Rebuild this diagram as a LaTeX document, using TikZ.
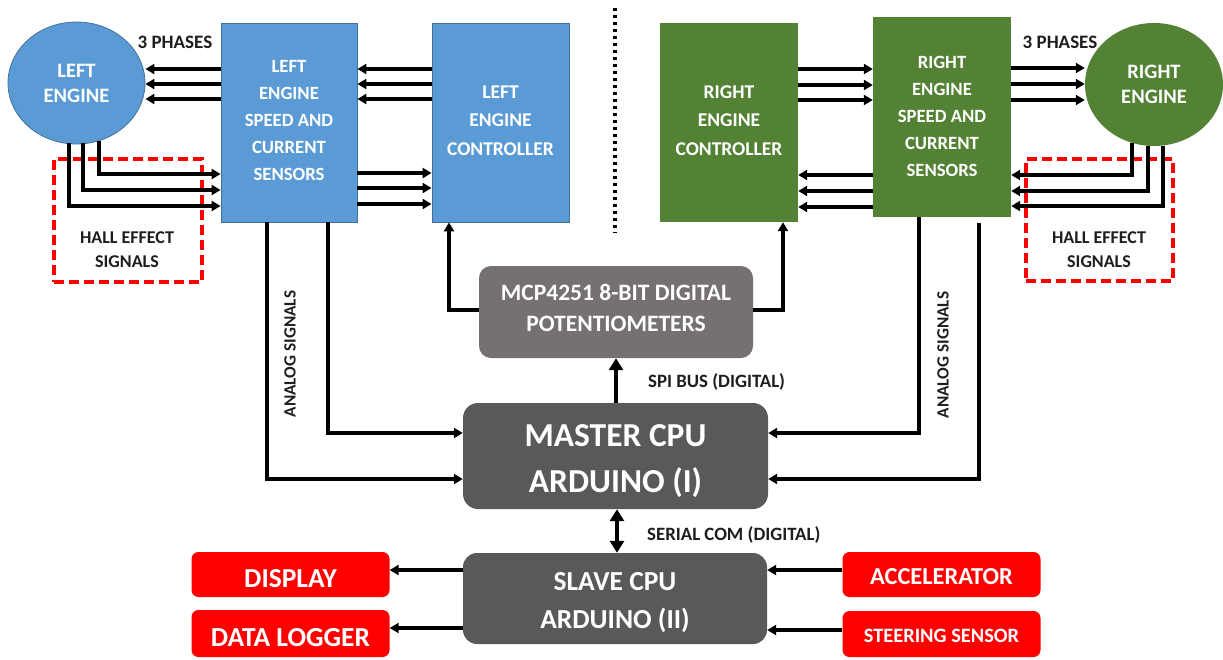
\documentclass[tikz,border=0pt]{standalone}
\usepackage{fontspec}
\setmainfont{Carlito}
\usetikzlibrary{arrows.meta,shapes.geometric,calc}
\definecolor{bblue}{HTML}{5B9BD5}
\definecolor{bblueedge}{HTML}{41719C}
\definecolor{ggreen}{HTML}{548235}
\definecolor{mcpgray}{HTML}{767171}
\definecolor{cpugray}{HTML}{595959}
\definecolor{rred}{HTML}{FF0000}
\definecolor{txt}{HTML}{1E1E1E}
\newcommand\fsz[2]{\fontsize{#1}{#2}\selectfont\bfseries}
\begin{document}
\begin{tikzpicture}[x=1pt,y=-1pt,
  box/.style={rectangle, inner sep=0pt},
  boxtxt/.style={text=white, align=center, inner sep=0pt},
  bluebox/.style={box, fill=bblue, draw=bblueedge, line width=0.8pt},
  greenbox/.style={box, fill=ggreen},
  engine/.style={ellipse, inner sep=0pt, minimum width=137pt, minimum height=122pt, text=white, align=center, font=\fsz{20.5}{25}},
  cpubox/.style={box, fill=cpugray, rounded corners=15pt},
  redbox/.style={box, fill=rred, rounded corners=7pt, minimum width=198pt},
  hallbox/.style={draw=rred, line width=3.2pt, dash pattern=on 10pt off 5pt, inner sep=0pt},
  lbl/.style={text=txt, align=center, inner sep=0pt},
  wire/.style={line width=3.2pt, -{Triangle[length=9pt,width=10pt]}},
  bus/.style={line width=4.5pt, -{Triangle[length=12pt,width=14pt]}},
]
\useasboundingbox (0,0) rectangle (1223,659);
\fill[white] (0,0) rectangle (1223,659);

% dashed hall boxes (under the wires)
\node[hallbox, minimum width=148pt, minimum height=123pt] (hl) at (128,220.5) {};
\node[hallbox, minimum width=147pt, minimum height=122pt] (hr) at (1099.5,220) {};
\node[lbl, font=\fsz{18}{24}] (hlt) at (127,250) {HALL EFFECT\\SIGNALS};
\node[lbl, font=\fsz{18}{24}] (hrt) at (1099,250) {HALL EFFECT\\SIGNALS};

% engines
\node[engine, fill=bblue, draw=bblueedge, line width=0.8pt] (le) at (76.5,83) {LEFT\\ENGINE};
\node[engine, fill=ggreen, minimum width=138pt, minimum height=123pt] (re) at (1154,84.5) {RIGHT\\ENGINE};

% blocks
\node[bluebox, minimum width=136pt, minimum height=199pt] (ls) at (289,122.5) {};
\node[boxtxt, font=\fsz{18.7}{27}] (lst) at ([yshift=2pt]ls.center) {LEFT\\ENGINE\\SPEED AND\\CURRENT\\SENSORS};
\node[bluebox, minimum width=137pt, minimum height=199pt] (lc) at (500.5,122.5) {};
\node[boxtxt, font=\fsz{19.5}{28.5}] (lct) at ([yshift=2pt]lc.center) {LEFT\\ENGINE\\CONTROLLER};
\node[greenbox, minimum width=138pt, minimum height=199pt] (rc) at (729,122.5) {};
\node[boxtxt, font=\fsz{19.5}{28.5}] (rct) at ([yshift=2pt]rc.center) {RIGHT\\ENGINE\\CONTROLLER};
\node[greenbox, minimum width=138pt, minimum height=200pt] (rs) at (942,117) {};
\node[boxtxt, font=\fsz{18.7}{27}] (rst) at ([yshift=1pt]rs.center) {RIGHT\\ENGINE\\SPEED AND\\CURRENT\\SENSORS};

\node[box, fill=mcpgray, rounded corners=12pt, minimum width=274pt, minimum height=92pt] (mcp) at (616,312) {};
\node[boxtxt, font=\fsz{23.5}{31}] (mcpt) at ([yshift=4pt]mcp.center) {MCP4251 8-BIT DIGITAL\\POTENTIOMETERS};
\node[cpubox, minimum width=305pt, minimum height=106pt] (master) at (615.5,456) {};
\node[boxtxt, font=\fsz{33.5}{46}] (mastert) at ([yshift=-5pt]master.center) {MASTER CPU\\ARDUINO (I)};
\node[cpubox, rounded corners=14pt, minimum width=304pt, minimum height=91pt] (slave) at (615,598.5) {};
\node[boxtxt, font=\fsz{27.5}{38}] (slavet) at ([yshift=-4pt]slave.center) {SLAVE CPU\\ARDUINO (II)};

\node[redbox, minimum height=45pt] (disp) at (290.5,574.5) {};
\node[boxtxt, font=\fsz{27.5}{30}] (dispt) at ([yshift=-4pt]disp.center) {DISPLAY};
\node[redbox, minimum height=47pt] (logger) at (290.5,633.5) {};
\node[boxtxt, font=\fsz{27.5}{30}] (loggert) at ([yshift=-4pt]logger.center) {DATA LOGGER};
\node[redbox, minimum height=45pt] (accel) at (941.5,574.5) {};
\node[boxtxt, font=\fsz{24.4}{28}] (accelt) at ([yshift=-2pt]accel.center) {ACCELERATOR};
\node[redbox, minimum height=46pt] (steer) at (941.5,634) {};
\node[boxtxt, font=\fsz{20.4}{24}] (steert) at ([yshift=-2pt]steer.center) {STEERING SENSOR};

% labels
\node[lbl, font=\fsz{19}{22}] (ph1) at (175,42) {3 PHASES};
\node[lbl, font=\fsz{19}{22}] (ph2) at (1060,42) {3 PHASES};
\node[lbl, font=\fsz{17.2}{20}, rotate=90] (an1) at (290,354) {ANALOG SIGNALS};
\node[lbl, font=\fsz{17.2}{20}, rotate=90] (an2) at (943,355) {ANALOG SIGNALS};
\node[lbl, font=\fsz{18.8}{22}, anchor=west] (spi) at (648,382) {SPI BUS (DIGITAL)};
\node[lbl, font=\fsz{18.8}{22}, anchor=west] (ser) at (647,535) {SERIAL COM (DIGITAL)};

% centre dotted divider
\draw[line width=3.2pt, dash pattern=on 3pt off 4pt] (615,8) -- (615,233);

% three phases
\foreach \y in {69,84,99} {
  \draw[wire] (ls.west |- 0,\y) -- (le.east |- 0,\y);
  \draw[wire] (lc.west |- 0,\y) -- (ls.east |- 0,\y);
}
\foreach \y in {68,84,100} \draw[wire] (rs.east |- 0,\y) -- (re.west |- 0,\y);
\foreach \y in {69,85,100} \draw[wire] (rc.east |- 0,\y) -- (rs.west |- 0,\y);
\foreach \y in {173,188,204} \draw[wire] (ls.east |- 0,\y) -- (lc.west |- 0,\y);
\foreach \y in {175,191,207} \draw[wire] (rs.west |- 0,\y) -- (rc.east |- 0,\y);

% hall effect signals
\draw[wire] ($(le.south)+(-7.5,-1)$) |- (ls.west |- 0,206);
\draw[wire] ($(le.south)+(6.5,-1)$) |- (ls.west |- 0,190);
\draw[wire] ($(le.south)+(22.5,-3.5)$) |- (ls.west |- 0,174);
\draw[wire] ($(re.south)+(-22,-3)$) |- (rs.east |- 0,175);
\draw[wire] ($(re.south)+(-6,-0.5)$) |- (rs.east |- 0,191);
\draw[wire] ($(re.south)+(9,-0.5)$) |- (rs.east |- 0,206);

% potentiometers to controllers
\draw[wire] (mcp.west |- 0,310) -| (lc.south -| 449,0);
\draw[wire] (mcp.east |- 0,310) -| (rc.south -| 783,0);

% analog signals
\draw[wire] (ls.south -| 328,0) |- (master.west |- 0,433);
\draw[wire] (ls.south -| 267,0) |- (master.west |- 0,479);
\draw[wire] (rs.south -| 919,0) |- (master.east |- 0,433);
\draw[wire] ($(rs.south -| 979,0)+(0,6)$) |- (master.east |- 0,479);

% buses
\draw[bus] (master.north -| 616,0) -- (mcp.south -| 616,0);
\draw[bus, {Triangle[length=12pt,width=14pt]}-{Triangle[length=12pt,width=14pt]}] (master.south -| 617,0) -- (slave.north -| 617,0);

% slave peripherals
\draw[wire] (slave.west |- 0,570) -- (disp.east |- 0,570);
\draw[wire] (slave.west |- 0,628) -- (logger.east |- 0,628);
\draw[wire] (accel.west |- 0,570) -- (slave.east |- 0,570);
\draw[wire] (steer.west |- 0,630) -- (slave.east |- 0,630);
\end{tikzpicture}
\end{document}
